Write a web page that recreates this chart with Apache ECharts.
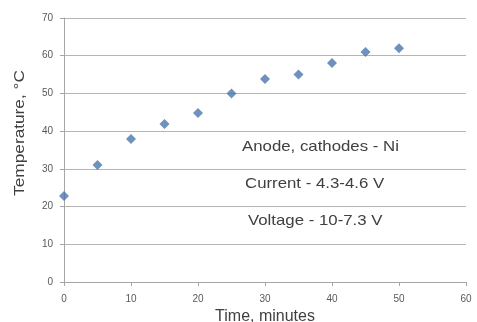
<!DOCTYPE html>
<html><head><meta charset="utf-8">
<script src="https://cdn.jsdelivr.net/npm/echarts@6/dist/echarts.min.js"></script>
<style>html,body{margin:0;padding:0;background:#fff}#c{width:477px;height:322px}</style>
</head><body><div id="c"></div>
<script>
const timeMinutes = [0, 5, 10, 15, 20, 25, 30, 35, 40, 45, 50];
const temperature = [22.8, 31, 37.9, 41.9, 44.8, 50, 53.8, 55, 58.1, 61, 62];
const notes = ["Anode, cathodes - Ni", "Current - 4.3-4.6 V", "Voltage - 10-7.3 V"];
const xTitle = "Time, minutes";
const yTitle = "Temperature, \u00B0C";

const chart = echarts.init(document.getElementById('c'), null, {renderer: 'canvas'});
const font = 'Liberation Sans, Arial, sans-serif';
const noteStyle = (txt) => ({text: txt, fill: '#404040', font: '15px ' + font, textVerticalAlign: 'middle'});
chart.setOption({
  animation: false,
  grid: {left: 64, right: 11, top: 18, bottom: 40, containLabel: false, outerBoundsMode: 'none'},
  xAxis: {
    type: 'value', min: 0, max: 60, interval: 10,
    name: xTitle, nameLocation: 'middle', nameGap: 25,
    nameTextStyle: {color: '#404040', fontSize: 16, fontFamily: font},
    axisLine: {show: true, lineStyle: {color: '#a6a6a6'}},
    axisTick: {show: true, length: 4, lineStyle: {color: '#a6a6a6'}},
    axisLabel: {color: '#595959', fontSize: 10, fontFamily: font, margin: 12},
    splitLine: {show: false}
  },
  yAxis: {
    type: 'value', min: 0, max: 70, interval: 10,
    axisLine: {show: true, lineStyle: {color: '#a6a6a6'}},
    axisTick: {show: true, length: 4, lineStyle: {color: '#a6a6a6'}},
    axisLabel: {color: '#595959', fontSize: 10, fontFamily: font, margin: 11},
    splitLine: {show: true, lineStyle: {color: '#b4b4b4', width: 1}}
  },
  graphic: [
    {type: 'text', x: 20, y: 133, rotation: Math.PI / 2, scaleX: 1.15,
     style: {text: yTitle, fill: '#404040', font: '15px ' + font, textAlign: 'center', textVerticalAlign: 'middle'}},
    {type: 'text', x: 242, y: 147, scaleX: 1.12, style: noteStyle(notes[0])},
    {type: 'text', x: 245, y: 184, scaleX: 1.12, style: noteStyle(notes[1])},
    {type: 'text', x: 248, y: 221, scaleX: 1.12, style: noteStyle(notes[2])}
  ],
  series: [{
    type: 'scatter',
    symbol: 'diamond',
    symbolSize: 10,
    itemStyle: {color: '#4a76ad'},
    data: timeMinutes.map((t, i) => [t, temperature[i]])
  }]
});
</script></body></html>
